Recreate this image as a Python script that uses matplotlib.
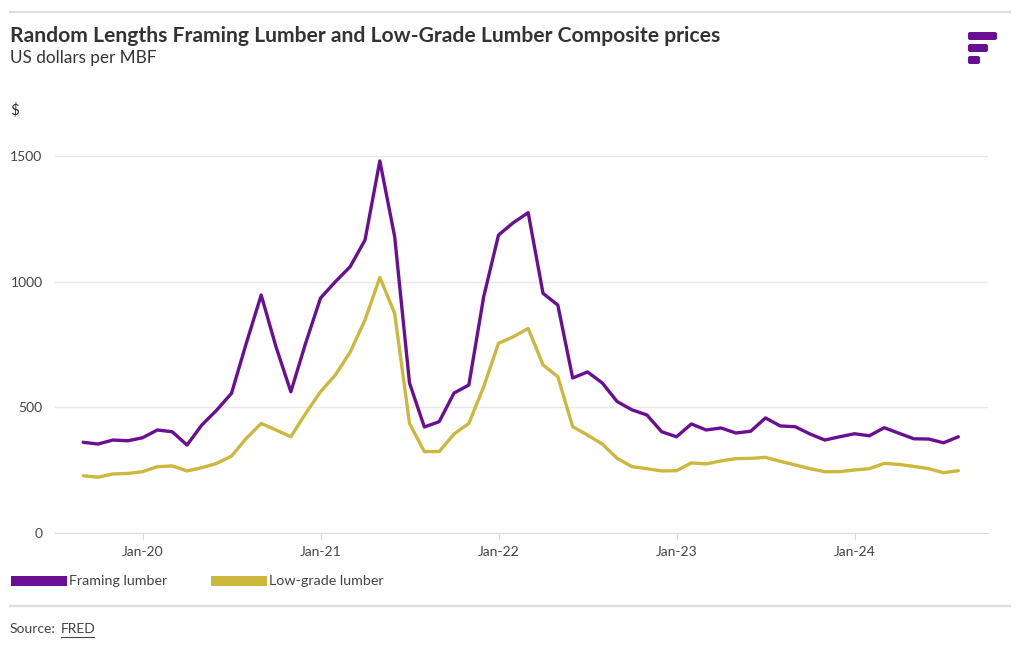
import matplotlib
matplotlib.use("Agg")
import matplotlib.pyplot as plt
from matplotlib.patches import FancyBboxPatch, Rectangle
from matplotlib.lines import Line2D
from matplotlib.transforms import IdentityTransform

plt.rcParams["font.family"] = ["Lato", "DejaVu Sans"]

# ── data (monthly, Sep 2019 – Aug 2024), US$ per MBF
months = [
    "2019-09", "2019-10", "2019-11", "2019-12",
    "2020-01", "2020-02", "2020-03", "2020-04", "2020-05", "2020-06",
    "2020-07", "2020-08", "2020-09", "2020-10", "2020-11", "2020-12",
    "2021-01", "2021-02", "2021-03", "2021-04", "2021-05", "2021-06",
    "2021-07", "2021-08", "2021-09", "2021-10", "2021-11", "2021-12",
    "2022-01", "2022-02", "2022-03", "2022-04", "2022-05", "2022-06",
    "2022-07", "2022-08", "2022-09", "2022-10", "2022-11", "2022-12",
    "2023-01", "2023-02", "2023-03", "2023-04", "2023-05", "2023-06",
    "2023-07", "2023-08", "2023-09", "2023-10", "2023-11", "2023-12",
    "2024-01", "2024-02", "2024-03", "2024-04", "2024-05", "2024-06",
    "2024-07", "2024-08",
]
framing = [
    361, 354, 370, 367,
    379, 410, 403, 350, 430, 489,
    556, 756, 947, 741, 562, 756,
    935, 1000, 1060, 1166, 1481, 1179,
    597, 422, 443, 557, 589, 940,
    1186, 1235, 1275, 954, 907, 617,
    641, 597, 523, 490, 470, 403,
    383, 434, 410, 418, 398, 405,
    458, 426, 423, 394, 370, 383,
    395, 387, 419, 397, 375, 374,
    359, 383,
]
low_grade = [
    228, 222, 235, 237,
    244, 264, 267, 247, 260, 277,
    306, 377, 436, 410, 383, 476,
    562, 629, 720, 848, 1017, 874,
    436, 324, 324, 394, 436, 582,
    755, 781, 814, 669, 622, 423,
    390, 354, 297, 264, 256, 247,
    248, 279, 275, 287, 296, 297,
    301, 285, 271, 256, 244, 244,
    251, 256, 277, 273, 265, 256,
    240, 248,
]
tick_months = ["2020-01", "2021-01", "2022-01", "2023-01", "2024-01"]
tick_labels = ["Jan-20", "Jan-21", "Jan-22", "Jan-23", "Jan-24"]
y_ticks = [0, 500, 1000, 1500]

PURPLE = "#6A0F93"
YELLOW = "#CDB83E"
GRID = "#E8E8E8"
TEXT = "#333333"
SOFT = "#444444"

fig = plt.figure(figsize=(10.2, 6.5), dpi=100)
W, H = 1020, 650

def fx(px):
    return px / W

def fy(py):
    return 1 - py / H

renderer = fig.canvas.get_renderer()

def fit_text(xp, yp, s, width_px, size, **kw):
    # place text, then scale font so it spans the width seen in the reference
    t = fig.text(fx(xp), fy(yp), s, fontsize=size, va="center", ha="left", **kw)
    w = t.get_window_extent(renderer).width
    t.set_fontsize(size * width_px / w)
    return t

ax = fig.add_axes([fx(55), fy(533), fx(988) - fx(55), fy(131) - fy(533)])

x = list(range(len(months)))
ax.plot(x, framing, color=PURPLE, lw=2.4, solid_joinstyle="round", solid_capstyle="round", zorder=3)
ax.plot(x, low_grade, color=YELLOW, lw=2.4, solid_joinstyle="round", solid_capstyle="round", zorder=2)

ax.set_xlim(-1.9, 61)
ax.set_ylim(0, 1600)
ax.set_yticks(y_ticks)
ax.set_yticklabels([str(v) for v in y_ticks])
ax.set_xticks([months.index(m) for m in tick_months])
ax.set_xticklabels(tick_labels)
ax.grid(axis="y", color=GRID, lw=1)
ax.set_axisbelow(True)
for s in ["top", "right", "left"]:
    ax.spines[s].set_visible(False)
ax.spines["bottom"].set_color("#DDDDDD")
ax.tick_params(axis="y", length=0, pad=9, labelsize=10, labelcolor=SOFT)
ax.tick_params(axis="x", length=5, color="#DDDDDD", pad=4, labelsize=10, labelcolor=SOFT)

# header
fig.add_artist(Line2D([fx(10), fx(1010)], [fy(12), fy(12)], color="#DDDDDD", lw=1.6))
fit_text(10, 36, "Random Lengths Framing Lumber and Low-Grade Lumber Composite prices",
         717, 13.2, fontweight="bold", color=TEXT)
fit_text(10, 58, "US dollars per MBF", 147, 11.5, color=TEXT)
fig.text(fx(10), fy(110), "$", fontsize=11, color=TEXT, va="center", ha="left")

# logo
for (x0, y0, w, h) in [(968, 32, 29, 8), (968, 44, 20, 8), (968, 56, 12, 8)]:
    fig.add_artist(FancyBboxPatch((x0, H - y0 - h), w, h,
                                  boxstyle="round,pad=0,rounding_size=2",
                                  transform=IdentityTransform(), color=PURPLE, lw=0))

# legend
for (x0, col, lab) in [(11, PURPLE, "Framing lumber"), (211, YELLOW, "Low-grade lumber")]:
    fig.add_artist(Rectangle((fx(x0), fy(586)), fx(56), 10 / H, transform=fig.transFigure,
                             color=col, lw=0))
    fig.text(fx(x0 + 58), fy(581), lab, fontsize=10.3, color=SOFT, va="center", ha="left")

# footer
fig.add_artist(Line2D([fx(10), fx(1010)], [fy(606), fy(606)], color="#DDDDDD", lw=1.6))
fig.text(fx(10), fy(629), "Source:", fontsize=10, color=SOFT, va="center", ha="left")
fig.text(fx(61), fy(629), "FRED", fontsize=10, color=SOFT, va="center", ha="left")
fig.add_artist(Line2D([fx(61), fx(94)], [fy(637), fy(637)], color=SOFT, lw=0.8))

fig.savefig("out.png", dpi=100)
